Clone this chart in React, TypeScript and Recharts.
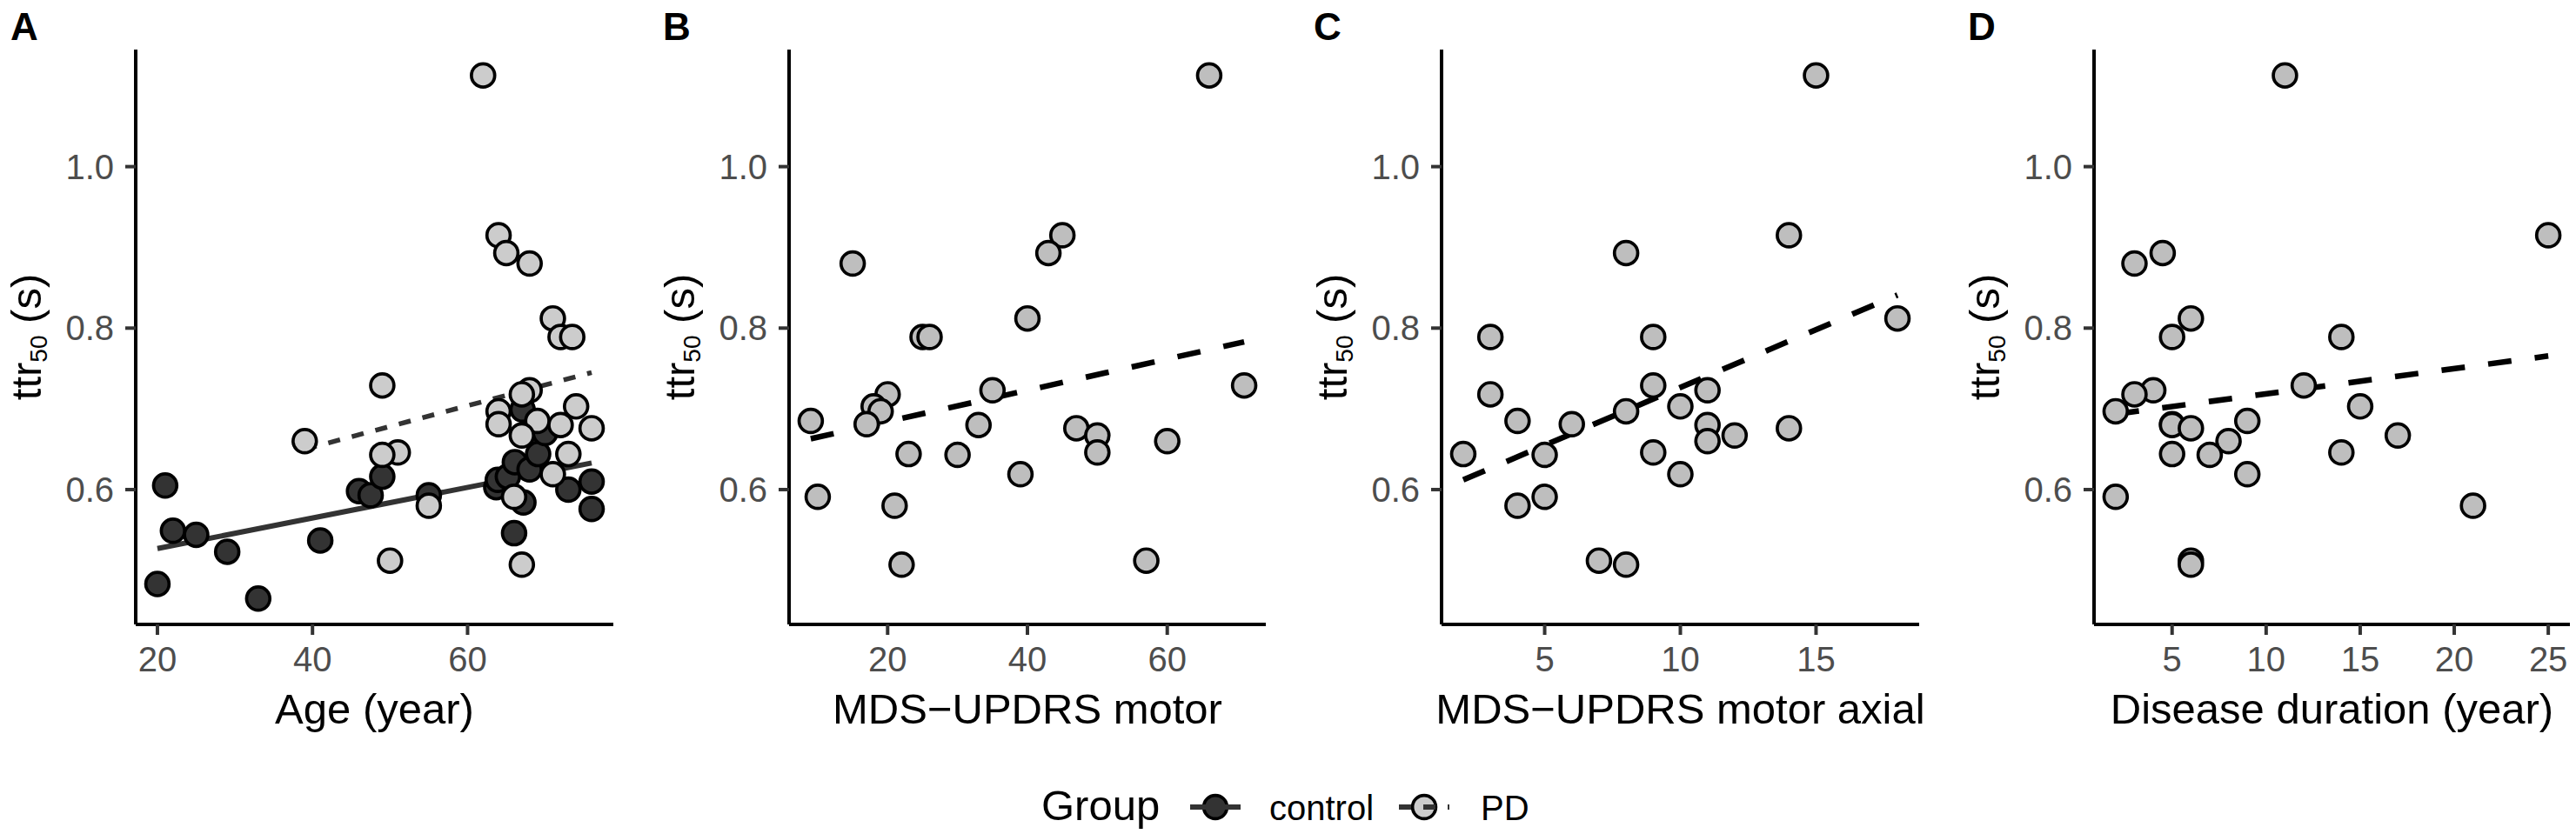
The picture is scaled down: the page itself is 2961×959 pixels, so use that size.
import React from 'react'
import { ScatterChart, Scatter, XAxis, YAxis, ReferenceLine } from 'recharts'

// ttr50 (s) shared y axis
const ttrTicks = [0.6, 0.8, 1.0]
const ttrDomain = [0.433, 1.145]

// controls: age (year) and ttr50
const controlAge = [20, 21, 22, 25, 29, 33, 41, 46, 47.5, 49, 55, 63.7, 63.9, 65.2, 66.1, 66, 67.1, 67.2, 68.7, 68, 69.1, 70, 73, 76, 76]
const controlTtr = [0.483, 0.605, 0.549, 0.544, 0.523, 0.465, 0.537, 0.598, 0.593, 0.616, 0.593, 0.603, 0.612, 0.616, 0.634, 0.546, 0.699, 0.584, 0.666, 0.625, 0.644, 0.67, 0.6, 0.61, 0.576]

// PD patients, one entry per subject
const pdTtr = [1.113, 0.915, 0.893, 0.88, 0.812, 0.789, 0.789, 0.729, 0.723, 0.718, 0.703, 0.697, 0.685, 0.681, 0.68, 0.676, 0.667, 0.66, 0.646, 0.644, 0.643, 0.619, 0.591, 0.58, 0.512, 0.507]
const pdAge = [62, 64, 65, 68, 71, 72, 73.5, 49, 68, 67, 74, 64, 69, 64, 72, 76, 67, 39, 51, 73, 49, 71, 66, 55, 50, 67]
const pdMotor = [66, 45, 43, 15, 40, 25, 26, 71, 35, 20, 18, 19, 9, 17, 33, 47, 50, 60, 50, 23, 30, 39, 10, 21, 57, 22]
const pdAxial = [15, 14, 8, null, 18, 3, 9, 9, 11, 3, 10, 8, 4, 6, 11, 14, 12, 11, 9, 2, 5, 10, 5, 4, 7, 8]
const pdDuration = [11, 25, 4.5, 3, 6, 5, 14, 12, 4, 3, 15, 2, 9, 5, 5, 6, 17, 8, 14, 5, 7, 9, 2, 21, 6, 6]

// fitted lines (start, end)
const fitControlAge = [20, 76]
const fitControlTtr = [0.527, 0.633]
const fitPdAge = [39, 76]
const fitPdAgeTtr = [0.65, 0.745]
const fitMotor = [9, 71]
const fitMotorTtr = [0.663, 0.783]
const fitAxial = [2, 18]
const fitAxialTtr = [0.612, 0.841]
const fitDuration = [2, 25]
const fitDurationTtr = [0.6935, 0.7655]

const FONT = '"Liberation Sans", Arial, Helvetica, sans-serif'
const H = 959
const PLOT_TOP = 57
const PLOT_BOTTOM = 718
const AXIS_W = 60
const AXIS_H = 60

const pts = (xs: (number | null)[], ys: number[]) =>
  xs.map((x, i) => ({ x, y: ys[i] })).filter((p) => p.x != null)

const dot = (fill: string) => (p: any) => (
  <circle cx={p.cx} cy={p.cy} r={13.4} fill={fill} stroke="#000" strokeWidth={3.7} />
)

const panels = [
  {
    letter: 'A', left: 0, width: 740, plotLeft: 156, plotRight: 705,
    xDomain: [17.2, 78.8], xTicks: [20, 40, 60], xTitle: 'Age (year)',
    series: [
      { name: 'control', data: pts(controlAge, controlTtr), fill: '#333333' },
      { name: 'PD', data: pts(pdAge, pdTtr), fill: '#CCCCCC' },
    ],
    fits: [
      { xs: fitControlAge, ys: fitControlTtr, stroke: '#333333', width: 6, dash: undefined },
      { xs: fitPdAge, ys: fitPdAgeTtr, stroke: '#333333', width: 5.5, dash: '14 14' },
    ],
  },
  {
    letter: 'B', left: 740, width: 740, plotLeft: 907, plotRight: 1455,
    xDomain: [5.9, 74.1], xTicks: [20, 40, 60], xTitle: 'MDS\u2212UPDRS motor',
    series: [{ name: 'PD', data: pts(pdMotor, pdTtr), fill: '#BEBEBE' }],
    fits: [{ xs: fitMotor, ys: fitMotorTtr, stroke: '#000', width: 6.5, dash: '27 27' }],
  },
  {
    letter: 'C', left: 1480, width: 740, plotLeft: 1657, plotRight: 2206,
    xDomain: [1.2, 18.8], xTicks: [5, 10, 15], xTitle: 'MDS\u2212UPDRS motor axial',
    series: [{ name: 'PD', data: pts(pdAxial, pdTtr), fill: '#BEBEBE' }],
    fits: [{ xs: fitAxial, ys: fitAxialTtr, stroke: '#000', width: 6.5, dash: '27 27' }],
  },
  {
    letter: 'D', left: 2220, width: 741, plotLeft: 2407, plotRight: 2954,
    xDomain: [0.85, 26.15], xTicks: [5, 10, 15, 20, 25], xTitle: 'Disease duration (year)',
    series: [{ name: 'PD', data: pts(pdDuration, pdTtr), fill: '#BEBEBE' }],
    fits: [{ xs: fitDuration, ys: fitDurationTtr, stroke: '#000', width: 6.5, dash: '27 27' }],
  },
]

function Panel({ p }: { p: (typeof panels)[number] }) {
  const axisX = p.plotLeft - p.left
  const plotW = p.plotRight - p.plotLeft
  const cy = (PLOT_TOP + PLOT_BOTTOM) / 2
  const tx = axisX - 109

  const yTitle = () => (
    <text
      x={tx}
      y={cy}
      transform={`rotate(-90 ${tx} ${cy})`}
      textAnchor="middle"
      fontSize={49}
      fill="#000"
      fontFamily={FONT}
    >
      ttr<tspan fontSize={28} dy={7}>50</tspan>
      <tspan dy={-7}> (s)</tspan>
    </text>
  )

  const xTitle = () => (
    <text x={axisX + plotW / 2} y={832} textAnchor="middle" fontSize={49} fill="#000" fontFamily={FONT}>
      {p.xTitle}
    </text>
  )

  return (
    <div style={{ position: 'absolute', left: p.left, top: 0 }}>
      <ScatterChart
        width={p.width}
        height={H}
        margin={{
          top: PLOT_TOP,
          right: p.width - (p.plotRight - p.left),
          bottom: H - PLOT_BOTTOM - AXIS_H,
          left: axisX - AXIS_W,
        }}
      >
        <XAxis
          type="number"
          dataKey="x"
          domain={p.xDomain}
          ticks={p.xTicks}
          interval={0}
          allowDataOverflow
          height={AXIS_H}
          axisLine={{ stroke: '#000', strokeWidth: 4 }}
          tickLine={{ stroke: '#333', strokeWidth: 4 }}
          tickSize={12}
          tickMargin={14}
          tick={{ fill: '#4D4D4D', fontSize: 40, fontFamily: FONT }}
          label={xTitle}
        />
        <YAxis
          type="number"
          dataKey="y"
          domain={ttrDomain}
          ticks={ttrTicks}
          interval={0}
          allowDataOverflow
          width={AXIS_W}
          tickFormatter={(v: number) => v.toFixed(1)}
          axisLine={{ stroke: '#000', strokeWidth: 4 }}
          tickLine={{ stroke: '#333', strokeWidth: 4 }}
          tickSize={12}
          tickMargin={13}
          tick={{ fill: '#4D4D4D', fontSize: 40, fontFamily: FONT }}
          label={yTitle}
        />
        {p.series.map((s) => (
          <Scatter
            key={s.name}
            name={s.name}
            data={s.data}
            fill={s.fill}
            shape={dot(s.fill)}
            isAnimationActive={false}
          />
        ))}
        {p.fits.map((f, i) => (
          <ReferenceLine
            key={i}
            segment={[
              { x: f.xs[0], y: f.ys[0] },
              { x: f.xs[1], y: f.ys[1] },
            ]}
            stroke={f.stroke}
            strokeWidth={f.width}
            strokeDasharray={f.dash}
            ifOverflow="visible"
          />
        ))}
      </ScatterChart>
    </div>
  )
}

export default function App() {
  const keyY = 928
  return (
    <div style={{ position: 'relative', width: 2961, height: H, background: '#fff', fontFamily: FONT }}>
      <style>{'body{margin:0}'}</style>
      {panels.map((p) => (
        <Panel key={p.letter} p={p} />
      ))}
      <svg
        width={2961}
        height={H}
        style={{ position: 'absolute', left: 0, top: 0, pointerEvents: 'none' }}
        fontFamily={FONT}
      >
        {panels.map((p, i) => (
          <text key={p.letter} x={[12, 762, 1510, 2262][i]} y={46} fontSize={44} fontWeight="bold" fill="#000">
            {p.letter}
          </text>
        ))}
        <text x={1197} y={943} fontSize={49} fill="#000">Group</text>
        <circle cx={1397} cy={keyY} r={13.4} fill="#333333" stroke="#000" strokeWidth={3.7} />
        <line x1={1368} x2={1426} y1={keyY} y2={keyY} stroke="#333333" strokeWidth={6} />
        <text x={1459} y={943} fontSize={40} fill="#000">control</text>
        <circle cx={1637} cy={keyY} r={13.4} fill="#CCCCCC" stroke="#000" strokeWidth={3.7} />
        <line x1={1608} x2={1666} y1={keyY} y2={keyY} stroke="#333333" strokeWidth={6} strokeDasharray="14 14" />
        <text x={1702} y={943} fontSize={40} fill="#000">PD</text>
      </svg>
    </div>
  )
}
